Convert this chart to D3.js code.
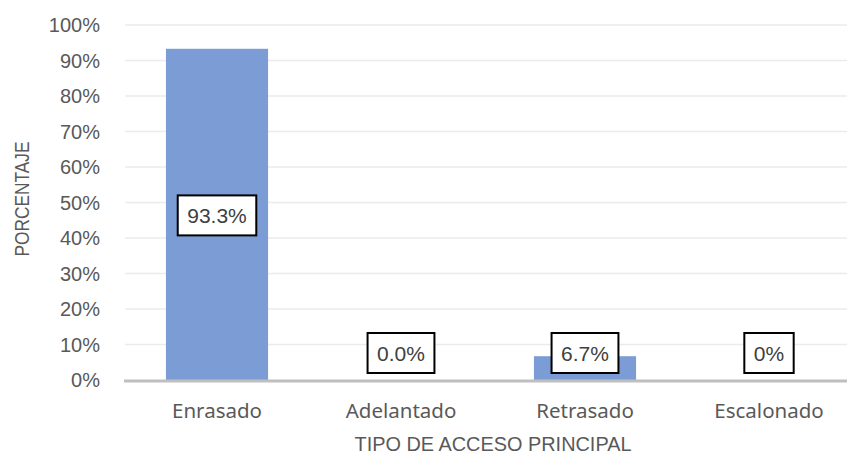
<!DOCTYPE html>
<html>
<head>
<meta charset="utf-8">
<script src="https://cdn.jsdelivr.net/npm/d3@7"></script>
<style>
  html, body { margin: 0; padding: 0; background: #fff; }
  svg { display: block; }
</style>
</head>
<body>
<svg id="chart" width="847" height="456"></svg>
<script>
// Access type categories and their share of cases (%)
const categories = ["Enrasado", "Adelantado", "Retrasado", "Escalonado"];
const values = [93.3, 0.0, 6.7, 0];
const valueLabels = ["93.3%", "0.0%", "6.7%", "0%"];
const yTicks = [0, 10, 20, 30, 40, 50, 60, 70, 80, 90, 100];

const svg = d3.select("#chart");
const W = 847, H = 456;
const plot = { left: 125, right: 861, top: 25, bottom: 380 };

const x = d3.scaleBand()
  .domain(categories)
  .range([plot.left, plot.right])
  .paddingInner(0.445)
  .paddingOuter(0.2225);

const y = d3.scaleLinear()
  .domain([0, 100])
  .range([plot.bottom, plot.top]);

// Horizontal gridlines
svg.append("g")
  .selectAll("line")
  .data(yTicks.filter(d => d > 0))
  .join("line")
  .attr("x1", plot.left)
  .attr("x2", W)
  .attr("y1", d => y(d))
  .attr("y2", d => y(d))
  .attr("stroke", "#ebebeb")
  .attr("stroke-width", 1.5);

// Y tick labels
svg.append("g")
  .selectAll("text")
  .data(yTicks)
  .join("text")
  .attr("x", 100)
  .attr("y", d => y(d))
  .attr("dy", "0.35em")
  .attr("text-anchor", "end")
  .attr("font-family", "Liberation Sans, Arial, sans-serif")
  .attr("font-size", 20)
  .attr("fill", "#595959")
  .text(d => d + "%");

// Bars
svg.append("g")
  .selectAll("rect")
  .data(categories)
  .join("rect")
  .attr("x", d => x(d))
  .attr("width", x.bandwidth())
  .attr("y", (d, i) => y(values[i]))
  .attr("height", (d, i) => y(0) - y(values[i]))
  .attr("fill", "#7b9cd5");

// Category axis line
svg.append("line")
  .attr("x1", plot.left - 1)
  .attr("x2", W)
  .attr("y1", y(0) + 1)
  .attr("y2", y(0) + 1)
  .attr("stroke", "#bfbfbf")
  .attr("stroke-width", 3);

// Category labels
svg.append("g")
  .selectAll("text")
  .data(categories)
  .join("text")
  .attr("x", d => x(d) + x.bandwidth() / 2)
  .attr("y", 418)
  .attr("text-anchor", "middle")
  .attr("font-family", "Noto Sans, Open Sans, sans-serif")
  .attr("font-size", 20.5)
  .attr("fill", "#595959")
  .text(d => d);

// Value labels in boxes
const boxH = 40;
const labels = svg.append("g")
  .selectAll("g")
  .data(categories)
  .join("g")
  .attr("transform", (d, i) => {
    const cx = x(d) + x.bandwidth() / 2;
    const barH = y(0) - y(values[i]);
    const cy = barH > boxH + 10 ? (y(values[i]) + y(0)) / 2 + 1 : y(0) - 7 - boxH / 2;
    return `translate(${cx},${cy})`;
  });

labels.append("text")
  .attr("text-anchor", "middle")
  .attr("dy", "0.38em")
  .attr("font-family", "Liberation Sans, Arial, sans-serif")
  .attr("font-size", 21)
  .attr("fill", "#404040")
  .text((d, i) => valueLabels[i]);

labels.each(function() {
  const g = d3.select(this);
  const bb = g.select("text").node().getBBox();
  const padX = 9.5;
  g.insert("rect", "text")
    .attr("x", bb.x - padX)
    .attr("y", -boxH / 2)
    .attr("width", bb.width + padX * 2)
    .attr("height", boxH)
    .attr("fill", "#fff")
    .attr("stroke", "#000")
    .attr("stroke-width", 2);
});

// Axis titles
svg.append("text")
  .attr("x", 493)
  .attr("y", 451)
  .attr("text-anchor", "middle")
  .attr("font-family", "Liberation Sans, Arial, sans-serif")
  .attr("font-size", 20)
  .attr("textLength", 277)
  .attr("lengthAdjust", "spacingAndGlyphs")
  .attr("fill", "#595959")
  .text("TIPO DE ACCESO PRINCIPAL");

svg.append("text")
  .attr("transform", `translate(29,199) rotate(-90)`)
  .attr("text-anchor", "middle")
  .attr("font-family", "Liberation Sans, Arial, sans-serif")
  .attr("font-size", 19.5)
  .attr("textLength", 115)
  .attr("lengthAdjust", "spacingAndGlyphs")
  .attr("fill", "#595959")
  .text("PORCENTAJE");
</script>
</body>
</html>
